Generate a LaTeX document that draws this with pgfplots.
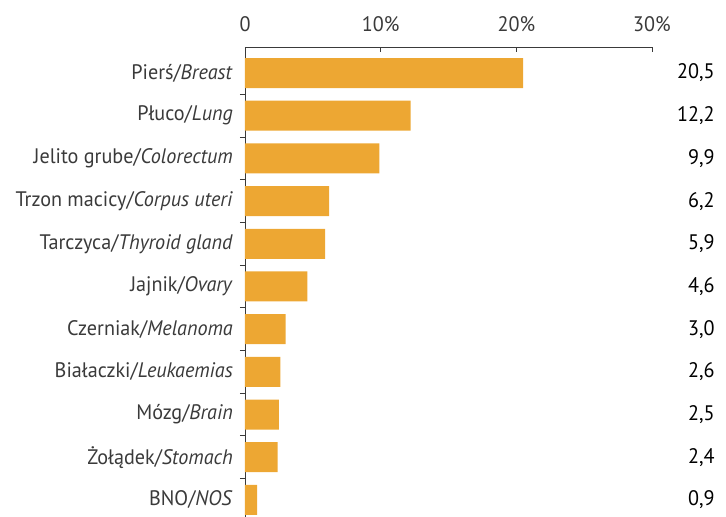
\documentclass[border=0pt]{standalone}
\usepackage{fontspec}
\setmainfont{PT Sans}[FakeStretch=0.96]
\usepackage{pgfplots}
\pgfplotsset{compat=1.18}

\definecolor{barorange}{HTML}{EDA733}
\definecolor{axisgray}{HTML}{3A3A3A}

\begin{document}
\fontsize{21}{25}\selectfont
\begin{tikzpicture}
\begin{axis}[
    name=ax,
    scale only axis,
    width=407pt, height=470pt,
    y dir=reverse,
    xmin=0, xmax=30,
    ymin=-0.61, ymax=10.4,
    axis x line*=top,
    axis y line*=left,
    axis line style={axisgray, line width=0.9pt},
    xtick={0,10,20,30},
    xticklabels={0,10\%,20\%,30\%},
    x tick label style={yshift=8pt},
    y tick label style={xshift=-5pt},
    ytick={0,...,10},
    yticklabels={Pierś/\textit{Breast},Płuco/\textit{Lung},Jelito grube/\textit{Colorectum},Trzon macicy/\textit{Corpus uteri},Tarczyca/\textit{Thyroid gland},Jajnik/\textit{Ovary},Czerniak/\textit{Melanoma},Białaczki/\textit{Leukaemias},Mózg/\textit{Brain},Żołądek/\textit{Stomach},BNO/\textit{NOS}},
    minor ytick={0.5,1.5,...,9.5},
    major tick length=0pt,
    minor tick length=5pt,
    xtick style={draw=axisgray, line width=0.9pt, /pgfplots/major tick length=5pt},
    ytick style={draw=axisgray, line width=0.9pt},
    tick align=outside,
    x tick style={/pgfplots/tick align=inside},
    tick label style={text=axisgray},
    /pgf/number format/assume math mode=true,
    clip=false,
]
\addplot[xbar, bar width=30pt, fill=barorange, draw=none] coordinates {
    (20.5,0) (12.2,1) (9.9,2) (6.2,3) (5.9,4) (4.6,5)
    (3.0,6) (2.6,7) (2.5,8) (2.4,9) (0.9,10)
};
\addplot[only marks, mark=none, point meta=explicit,
    nodes near coords,
    nodes near coords style={anchor=east, text=black,
        /pgf/number format/.cd, fixed, fixed zerofill, precision=1, use comma, assume math mode=true}]
    coordinates {
    (35.15,0) [20.5] (35.15,1) [12.2] (35.15,2) [9.9] (35.15,3) [6.2] (35.15,4) [5.9] (35.15,5) [4.6]
    (35.15,6) [3.0] (35.15,7) [2.6] (35.15,8) [2.5] (35.15,9) [2.4] (35.15,10) [0.9]
};
\end{axis}
\pgfresetboundingbox
\path[use as bounding box] ([xshift=-245pt]ax.south west) rectangle ([xshift=481pt,yshift=47pt]ax.north west);
\end{tikzpicture}
\end{document}
